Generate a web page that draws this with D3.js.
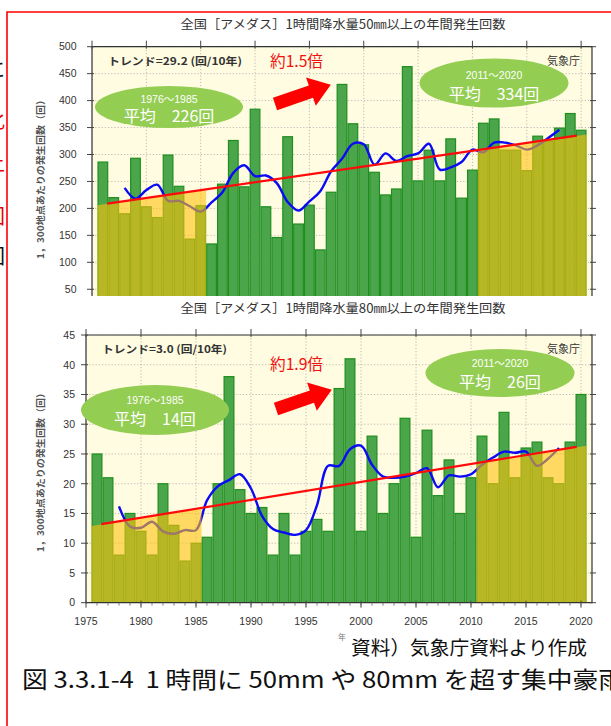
<!DOCTYPE html>
<html><head><meta charset="utf-8">
<script src="https://cdn.jsdelivr.net/npm/d3@7/dist/d3.min.js"></script>
<style>
body{margin:0;background:#fff;}
svg{display:block;font-family:"Noto Sans CJK JP","Noto Sans",sans-serif;}
</style>
</head><body>
<svg id="c" width="611" height="726"></svg>
<script>
// ---------- data ----------
const years = [1976,1977,1978,1979,1980,1981,1982,1983,1984,1985,
  1986,1987,1988,1989,1990,1991,1992,1993,1994,1995,
  1996,1997,1998,1999,2000,2001,2002,2003,2004,2005,
  2006,2007,2008,2009,2010,2011,2012,2013,2014,2015,
  2016,2017,2018,2019,2020];
const count50 = [286,220,190,293,203,183,299,241,143,205,
  134,245,326,240,384,203,146,333,171,206,
  123,230,430,357,318,267,225,236,463,251,
  308,251,329,219,271,358,366,308,308,270,
  334,325,349,376,345];
const count80 = [25,21,8,15,12,8,20,13,7,10,
  11,20,38,19,15,16,8,15,8,12,
  14,12,36,41,12,28,15,20,31,11,
  29,18,24,15,21,28,20,32,21,26,
  27,21,20,27,35];
const maYears = [1978,1979,1980,1981,1982,1983,1984,1985,1986,1987,
  1988,1989,1990,1991,1992,1993,1994,1995,1996,1997,
  1998,1999,2000,2001,2002,2003,2004,2005,2006,2007,
  2008,2009,2010,2011,2012,2013,2014,2015,2016,2017,2018];
const ma50 = [238,218,234,244,214,214,204,194,211,230,
  266,280,260,261,247,212,196,213,232,269,
  292,320,319,281,302,288,297,302,320,272,
  276,286,309,304,322,322,317,309,317,331,346];
const ma80 = [16.2,12.8,12.6,13.6,12.0,11.6,12.2,12.2,17.2,19.6,
  20.6,21.6,19.2,14.6,12.4,11.8,11.4,12.2,16.4,23.0,
  23.0,25.8,26.4,23.2,21.2,21.0,21.2,21.8,22.6,19.4,
  21.4,21.2,21.6,23.2,24.4,25.4,25.2,25.4,23.0,24.2,26.0];
const xTicks = [1975,1980,1985,1990,1995,2000,2005,2010,2015,2020];
const yTicks50 = [50,100,150,200,250,300,350,400,450,500];
const yTicks80 = [0,5,10,15,20,25,30,35,40,45];
const trendX = [1976.4, 2019.6];
const trend50 = [208.8, 335];
const trend80 = [13.2, 26.2];
const periodA = [1975.5, 1985.5];
const periodB = [2010.5, 2020.5];
const bandA50 = [206, 235], bandB50 = [308, 337];
const bandA80 = [12.9, 15.9], bandB80 = [23.4, 26.4];

const svg = d3.select('#c');
const defs = svg.append('defs');
const RIGHT = 592;

function drawPanel(p) {
  const x = d3.scaleLinear().domain([1975, 2021]).range([p.left, RIGHT]);
  const y = d3.scaleLinear().domain(p.yDomain).range(p.yRange);
  const W = RIGHT - p.left, H = p.bottom - p.top;
  defs.append('clipPath').attr('id', 'clip' + p.id)
    .append('rect').attr('x', p.left).attr('y', p.top).attr('width', W).attr('height', H);
  const g = svg.append('g');
  g.append('rect').attr('x', p.left).attr('y', p.top).attr('width', W).attr('height', H).attr('fill', '#FFFCE1');
  const plot = g.append('g').attr('clip-path', `url(#clip${p.id})`);
  // grid
  plot.selectAll('.hg').data(p.yTicks).join('line')
    .attr('x1', p.left).attr('x2', RIGHT).attr('y1', d => y(d)).attr('y2', d => y(d))
    .attr('stroke', '#aaa').attr('stroke-width', 0.8).attr('stroke-dasharray', '1.2,2');
  plot.selectAll('.vg').data(xTicks).join('line')
    .attr('y1', p.top).attr('y2', p.bottom).attr('x1', d => x(d)).attr('x2', d => x(d))
    .attr('stroke', '#aaa').attr('stroke-width', 0.8).attr('stroke-dasharray', '1.2,2');
  // bars
  const bw = x(1976) - x(1975);
  plot.selectAll('.bar').data(years).join('rect')
    .attr('x', d => x(d - 0.5) + 0.6).attr('width', bw - 1.2)
    .attr('y', (d, i) => y(p.values[i]))
    .attr('height', (d, i) => y(0) - y(p.values[i]))
    .attr('fill', '#4BA64B').attr('stroke', '#1F8E1F').attr('stroke-width', 1.2);
  // moving average
  const line = d3.line().x(d => x(d[0])).y(d => y(d[1])).curve(d3.curveCatmullRom.alpha(0.5));
  plot.append('path').datum(maYears.map((yr, i) => [yr, p.ma[i]]))
    .attr('d', line).attr('fill', 'none').attr('stroke', '#0A0AF5').attr('stroke-width', 2.4);
  // period overlays
  const area = d3.area().x(d => x(d[0])).y0(y(0)).y1(d => y(d[1]));
  [[periodA, p.bandA], [periodB, p.bandB]].forEach(([per, band]) => {
    plot.append('path').datum(per.map((yr, i) => [yr, band[i]]))
      .attr('d', area).attr('fill', 'rgb(255,193,12)').attr('fill-opacity', 0.6);
  });
  // trend line
  plot.append('path').datum(trendX.map((yr, i) => [yr, p.trend[i]]))
    .attr('d', d3.line().x(d => x(d[0])).y(d => y(d[1])))
    .attr('stroke', '#FF0A0A').attr('stroke-width', 2.2).attr('fill', 'none');
  // frame
  const fr = g.append('path').attr('fill', 'none').attr('stroke', '#333').attr('stroke-width', 1.2);
  if (p.openBottom) fr.attr('d', `M${p.left},${p.bottom}V${p.top}H${RIGHT}V${p.bottom}`);
  else fr.attr('d', `M${p.left},${p.top}H${RIGHT}V${p.bottom}H${p.left}Z`);
  // y ticks
  const yt = p.yTicks.filter(d => y(d) <= p.bottom + 0.5);
  g.selectAll('.ytl').data(yt).join('line')
    .attr('x1', p.left - 5).attr('x2', p.left + 2).attr('y1', d => y(d)).attr('y2', d => y(d))
    .attr('stroke', '#444').attr('stroke-width', 1);
  g.selectAll('.ytr').data(yt).join('line')
    .attr('x1', RIGHT - 2).attr('x2', RIGHT + 4).attr('y1', d => y(d)).attr('y2', d => y(d))
    .attr('stroke', '#444').attr('stroke-width', 1);
  g.selectAll('.ylab').data(yt).join('text')
    .attr('x', p.labelX).attr('y', d => y(d)).attr('dy', '0.36em')
    .attr('text-anchor', 'end').attr('font-family', '"Liberation Sans",Arial,sans-serif')
    .attr('font-size', 10.5).attr('fill', '#333').text(d => d);
  // x ticks (top)
  g.selectAll('.xtt').data(xTicks).join('line')
    .attr('x1', d => x(d)).attr('x2', d => x(d)).attr('y1', p.top - 6).attr('y2', p.top + 2)
    .attr('stroke', '#444').attr('stroke-width', 1);
  if (!p.openBottom) {
    g.selectAll('.xtb').data(xTicks).join('line')
      .attr('x1', d => x(d)).attr('x2', d => x(d)).attr('y1', p.bottom - 2).attr('y2', p.bottom + 5)
      .attr('stroke', '#444').attr('stroke-width', 1);
    g.selectAll('.xtm').data(years).join('line')
      .attr('x1', d => x(d)).attr('x2', d => x(d)).attr('y1', p.bottom).attr('y2', p.bottom + 3)
      .attr('stroke', '#666').attr('stroke-width', 0.8);
    g.selectAll('.xlab').data(xTicks).join('text')
      .attr('x', d => x(d)).attr('y', p.bottom + 22)
      .attr('text-anchor', 'middle').attr('font-family', '"Liberation Sans",Arial,sans-serif')
      .attr('font-size', 10.5).attr('fill', '#333').text(d => d);
  }
  // title
  svg.append('text').attr('x', 343).attr('y', p.titleY).attr('text-anchor', 'middle')
    .attr('font-size', 12.5).attr('fill', '#333').attr('textLength', 325).attr('lengthAdjust', 'spacingAndGlyphs')
    .text(p.title);
  // y axis title
  svg.append('text').attr('transform', `translate(44,${p.yTitleY}) rotate(-90)`)
    .attr('text-anchor', 'middle').attr('font-size', 9.5).attr('font-weight', 'bold').attr('fill', '#555')
    .attr('textLength', 164).attr('lengthAdjust', 'spacingAndGlyphs')
    .text('1，300地点あたりの発生回数（回）');
  // trend label
  svg.append('text').attr('x', p.left + 16).attr('y', p.top + 18)
    .attr('font-size', 10.5).attr('font-weight', 'bold').attr('fill', '#333')
    .attr('textLength', p.trendW).attr('lengthAdjust', 'spacingAndGlyphs').text(p.trendLabel);
  svg.append('text').attr('x', 580).attr('y', p.top + 18).attr('text-anchor', 'end')
    .attr('font-size', 11).attr('fill', '#333').text('気象庁');
  // multiplier
  svg.append('text').attr('x', 270).attr('y', p.multY).attr('font-size', 16).attr('fill', '#F01010')
    .attr('textLength', 53).attr('lengthAdjust', 'spacingAndGlyphs').text(p.mult);
  // arrow
  svg.append('path').attr('transform', `translate(${p.arrow[0]},${p.arrow[1]}) rotate(-19)`)
    .attr('d', 'M0,-6.5L38,-6.5L38,-15L59,0L38,15L38,6.5L0,6.5Z').attr('fill', '#FF0000');
  // ellipses
  p.ellipses.forEach(e => {
    svg.append('ellipse').attr('cx', e.cx).attr('cy', e.cy).attr('rx', e.rx).attr('ry', e.ry).attr('fill', '#93CD52');
    svg.append('text').attr('x', e.cx).attr('y', e.y1).attr('text-anchor', 'middle').attr('font-size', 10.5)
      .attr('fill', '#fff').attr('font-family', '"Liberation Sans","Noto Sans CJK JP",sans-serif').text(e.t1);
    svg.append('text').attr('x', e.cx).attr('y', e.y2).attr('text-anchor', 'middle').attr('font-size', 16)
      .attr('fill', '#fff').text(e.t2);
  });
}

drawPanel({
  id: 'a', left: 92, top: 46.7, bottom: 296, openBottom: true, labelX: 76.5,
  yDomain: [0, 500], yRange: [46.7 + 500 * 0.539, 46.7], yTicks: yTicks50,
  values: count50, ma: ma50, trend: trend50, bandA: bandA50, bandB: bandB50,
  title: '全国［アメダス］1時間降水量50㎜以上の年間発生回数', titleY: 28.5, yTitleY: 177,
  trendLabel: 'トレンド=29.2 (回/10年)', trendW: 134,
  mult: '約1.5倍', multY: 67, arrow: [275, 104],
  ellipses: [
    {cx: 169, cy: 107, rx: 74, ry: 21, y1: 102.5, y2: 122, t1: '1976～1985', t2: '平均　226回'},
    {cx: 494, cy: 83, rx: 74.5, ry: 24.5, y1: 78.5, y2: 99.5, t1: '2011～2020', t2: '平均　334回'}
  ]
});
drawPanel({
  id: 'b', left: 86, top: 335, bottom: 602.7, openBottom: false, labelX: 75,
  yDomain: [0, 45], yRange: [602.7, 335], yTicks: yTicks80,
  values: count80, ma: ma80, trend: trend80, bandA: bandA80, bandB: bandB80,
  title: '全国［アメダス］1時間降水量80㎜以上の年間発生回数', titleY: 313, yTitleY: 470,
  trendLabel: 'トレンド=3.0 (回/10年)', trendW: 125,
  mult: '約1.9倍', multY: 370, arrow: [276, 409],
  ellipses: [
    {cx: 155, cy: 410, rx: 74, ry: 25, y1: 404, y2: 424.5, t1: '1976～1985', t2: '平均　14回'},
    {cx: 500, cy: 373, rx: 74.5, ry: 24, y1: 367, y2: 387.5, t1: '2011～2020', t2: '平均　26回'}
  ]
});

// axis unit
svg.append('text').attr('x', 338).attr('y', 640).attr('font-size', 8).attr('fill', '#777').text('年');
// captions
svg.append('text').attr('x', 351).attr('y', 655).attr('font-size', 19.5).attr('fill', '#111')
  .attr('textLength', 236).attr('lengthAdjust', 'spacingAndGlyphs').text('資料）気象庁資料より作成');
svg.append('text').attr('x', 22).attr('y', 688).attr('font-size', 23).attr('fill', '#111')
  .style('white-space', 'pre')
  .attr('textLength', 602).attr('lengthAdjust', 'spacingAndGlyphs')
  .text('図 3.3.1-4  1 時間に 50mm や 80mm を超す集中豪雨');
// red border
svg.append('path').attr('d', 'M7,726V12H611').attr('fill', 'none').attr('stroke', '#FF0000').attr('stroke-width', 1.6);
// slivers of neighbouring text cut at the left edge
[['に', 77, '#111'], ['化', 128, '#E00'], ['上', 171, '#E00'], ['回', 224, '#E00'], ['回', 264, '#111']]
  .forEach(([t, yy, c]) => svg.append('text').attr('x', 5).attr('y', yy).attr('text-anchor', 'end')
    .attr('font-size', 20).attr('fill', c).text(t));
</script>
</body></html>
